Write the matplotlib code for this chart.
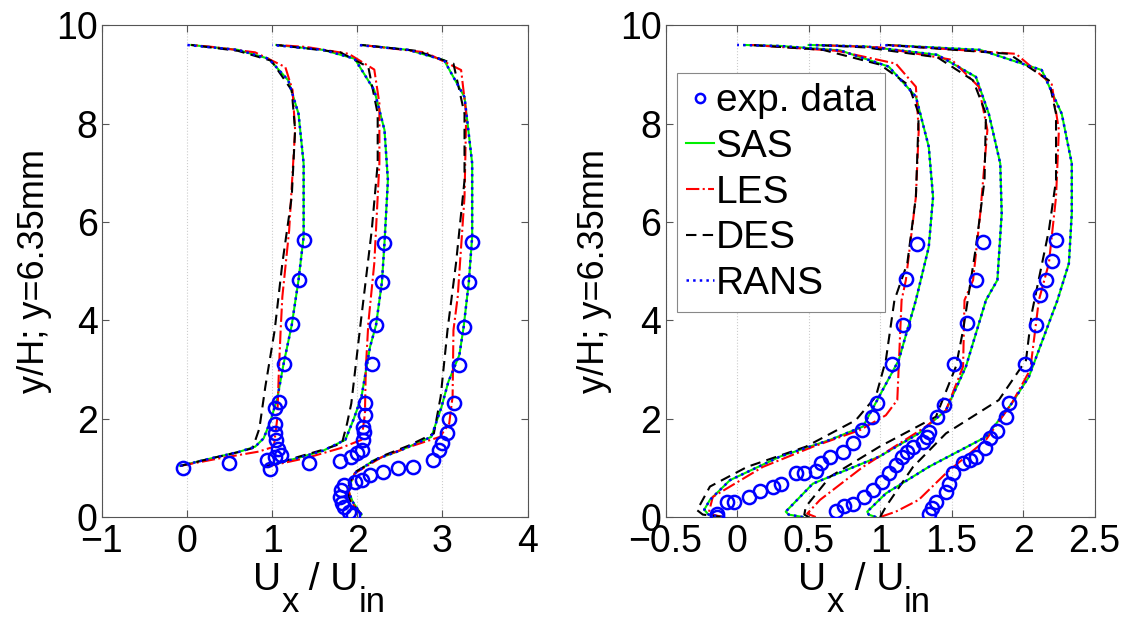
import matplotlib
matplotlib.use('Agg')
import matplotlib.pyplot as plt

plt.rcParams['font.family'] = ['Liberation Sans', 'DejaVu Sans']

# ---- left panel: three stations (x already includes the station offset) ----
L_SAS_X = [[-0.08, 0.3, 0.6, 0.80, 0.9, 0.98, 1.06, 1.135, 1.23, 1.31, 1.37, 1.37, 1.37, 1.31, 1.19, 0.96, 0.6, 0.05],
           [0.9, 1.3, 1.6, 1.86, 1.96, 2.05, 2.15, 2.22, 2.29, 2.32, 2.36, 2.32, 2.2, 1.97, 1.6, 1.05],
           [2.05, 1.95, 1.89, 1.97, 2.2, 2.5, 2.87, 2.99, 3.07, 3.2, 3.25, 3.31, 3.35, 3.35, 3.26, 3.02, 2.6, 2.05]]
L_SAS_Y = [[1.04, 1.2, 1.32, 1.43, 1.6, 1.95, 2.41, 3.12, 3.9, 4.82, 5.7, 6.5, 7.19, 8.2, 8.88, 9.32, 9.5, 9.6],
           [1.02, 1.2, 1.35, 1.57, 2.0, 2.45, 3.46, 3.9, 4.78, 5.58, 6.85, 7.87, 8.68, 9.32, 9.5, 9.6],
           [0.05, 0.3, 0.55, 0.89, 1.16, 1.35, 1.63, 2.24, 2.75, 3.3, 3.87, 4.77, 5.7, 7.19, 8.54, 9.29, 9.5, 9.6]]
L_DES_X = [[-0.08, 0.3, 0.6, 0.77, 0.85, 0.92, 1.03, 1.12, 1.23, 1.27, 1.23, 0.99, 0.6, 0.05],
           [0.9, 1.3, 1.6, 1.82, 1.88, 1.93, 2.03, 2.17, 2.24, 2.24, 2.13, 1.8, 1.05],
           [2.05, 1.92, 1.88, 1.96, 2.28, 2.6, 2.9, 2.98, 3.06, 3.16, 3.26, 3.26, 3.13, 2.7, 2.05]]
L_DES_Y = [[1.04, 1.2, 1.32, 1.4, 1.8, 2.65, 3.8, 5.16, 6.51, 7.87, 8.68, 9.28, 9.48, 9.6],
           [1.02, 1.22, 1.37, 1.5, 1.9, 2.31, 3.8, 5.83, 7.19, 8.2, 9.15, 9.45, 9.6],
           [0.05, 0.3, 0.55, 0.9, 1.23, 1.45, 1.7, 2.45, 3.8, 5.16, 6.85, 8.2, 9.22, 9.48, 9.6]]
L_LES_X = [[-0.08, 0.4, 0.84, 1.02, 1.06, 1.08, 1.1, 1.12, 1.2, 1.27, 1.24, 1.155, 0.8, 0.3, 0.05],
           [0.92, 1.4, 1.8, 2.05, 2.09, 2.1, 2.13, 2.2, 2.26, 2.26, 2.2, 1.9, 1.4, 1.05],
           [2.05, 1.93, 1.9, 1.97, 2.3, 2.6, 2.97, 3.08, 3.12, 3.13, 3.18, 3.26, 3.28, 3.22, 2.8, 2.05]]
L_LES_Y = [[1.04, 1.2, 1.33, 1.43, 2.0, 3.0, 3.8, 4.48, 5.83, 7.87, 8.68, 9.15, 9.45, 9.56, 9.6],
           [1.02, 1.2, 1.4, 1.57, 2.1, 3.0, 3.94, 5.16, 7.19, 8.41, 9.1, 9.42, 9.56, 9.6],
           [0.05, 0.3, 0.55, 0.89, 1.23, 1.42, 1.63, 1.9, 2.45, 3.8, 4.48, 6.51, 8.2, 9.09, 9.45, 9.6]]
L_RANS_TOP = [0.0, 1.0, 2.0]
L_EXP_X = [[-0.05, 0.49, 0.98, 0.94, 1.03, 1.10, 1.07, 1.05, 1.03, 1.03, 1.03, 1.085, 1.135, 1.23, 1.31, 1.37],
           [1.43, 1.8, 1.93, 2.0, 2.05, 2.07, 2.08, 2.07, 2.09, 2.09, 2.17, 2.22, 2.29, 2.32],
           [1.95, 1.9, 1.85, 1.82, 1.8, 1.81, 1.84, 1.97, 2.05, 2.15, 2.3, 2.48, 2.65, 2.89, 2.96, 3.0, 3.05,
            3.08, 3.14, 3.2, 3.25, 3.31, 3.35]]
L_EXP_Y = [[0.99, 1.09, 0.97, 1.16, 1.23, 1.26, 1.39, 1.57, 1.70, 1.90, 2.21, 2.34, 3.12, 3.92, 4.82, 5.64],
           [1.09, 1.14, 1.23, 1.3, 1.36, 1.57, 1.73, 1.83, 2.07, 2.32, 3.12, 3.9, 4.78, 5.58],
           [0.04, 0.1, 0.2, 0.28, 0.41, 0.55, 0.65, 0.72, 0.76, 0.85, 0.92, 0.99, 1.02, 1.16, 1.36, 1.5, 1.7,
            1.99, 2.31, 3.09, 3.87, 4.77, 5.6]]

# ---- right panel ----
R_SAS_X = [[-0.1, -0.2, -0.23, -0.19, -0.05, 0.3, 0.65, 0.88, 0.98, 1.13, 1.25, 1.34, 1.37, 1.34, 1.25, 1.06, 0.72, 0.3, 0.05],
           [0.46, 0.36, 0.34, 0.53, 0.995, 1.27, 1.46, 1.6, 1.74, 1.82, 1.85, 1.84, 1.76, 1.67, 1.4, 0.9, 0.5],
           [0.97, 0.92, 0.91, 1.04, 1.34, 1.74, 1.92, 2.04, 2.24, 2.32, 2.34, 2.34, 2.27, 2.13, 1.7, 1.05]]
R_SAS_Y = [[0.0, 0.05, 0.15, 0.35, 0.75, 1.23, 1.57, 1.84, 2.38, 3.19, 4.41, 5.49, 6.51, 7.53, 8.55, 9.16, 9.49, 9.58, 9.6],
           [0.0, 0.05, 0.11, 0.68, 1.23, 1.7, 2.17, 3.06, 4.41, 4.82, 6.17, 7.19, 8.2, 8.95, 9.4, 9.57, 9.6],
           [0.0, 0.05, 0.11, 0.48, 1.02, 1.63, 2.31, 2.85, 4.41, 5.16, 6.17, 7.19, 8.2, 9.09, 9.5, 9.6]]
R_DES_X = [[-0.1, -0.24, -0.28, -0.19, 0.07, 0.48, 0.83, 0.97, 1.04, 1.10, 1.19, 1.25, 1.27, 1.20, 1.0, 0.6, 0.1],
           [0.5, 0.47, 0.48, 0.65, 0.995, 1.39, 1.53, 1.58, 1.67, 1.73, 1.74, 1.65, 1.4, 0.9, 0.55],
           [1.0, 1.04, 1.23, 1.46, 1.83, 2.02, 2.06, 2.18, 2.23, 2.23, 2.18, 1.9, 1.05]]
R_DES_Y = [[0.0, 0.05, 0.14, 0.62, 1.02, 1.43, 1.97, 2.45, 3.19, 4.41, 5.16, 6.51, 8.2, 8.78, 9.2, 9.5, 9.6],
           [0.0, 0.05, 0.21, 0.82, 1.43, 2.04, 3.06, 3.8, 5.49, 6.85, 8.2, 8.88, 9.35, 9.55, 9.6],
           [0.0, 0.21, 1.02, 1.7, 2.38, 3.19, 4.14, 5.83, 6.85, 8.2, 8.88, 9.42, 9.6]]
R_LES_X = [[-0.1, -0.2, -0.17, 0.18, 0.53, 0.86, 1.04, 1.12, 1.13, 1.15, 1.18, 1.25, 1.27, 1.25, 1.11, 0.7, 0.1],
           [0.55, 0.49, 0.58, 0.88, 1.32, 1.46, 1.58, 1.59, 1.65, 1.7, 1.75, 1.69, 1.5, 1.0, 0.55],
           [1.0, 1.11, 1.27, 1.46, 1.74, 1.92, 2.05, 2.11, 2.18, 2.23, 2.25, 2.2, 1.95, 1.05]]
R_LES_Y = [[0.0, 0.07, 0.41, 1.02, 1.43, 1.77, 2.07, 2.38, 3.06, 4.41, 4.82, 6.51, 7.87, 8.75, 9.22, 9.48, 9.6],
           [0.0, 0.07, 0.35, 1.02, 1.84, 2.17, 3.06, 4.41, 4.82, 6.17, 7.87, 8.75, 9.3, 9.55, 9.6],
           [0.0, 0.11, 0.35, 0.89, 1.57, 2.31, 3.0, 4.41, 5.16, 6.51, 7.87, 8.8, 9.42, 9.6]]
R_RANS_TOP = [0.0, 0.5, 1.0]
R_EXP_X = [[-0.14, -0.14, -0.07, -0.02, 0.08, 0.16, 0.25, 0.31, 0.41, 0.47, 0.55, 0.59, 0.65, 0.74, 0.81, 0.87, 0.94,
            0.98, 1.08, 1.16, 1.18, 1.26],
           [0.69, 0.75, 0.81, 0.89, 0.95, 1.01, 1.06, 1.11, 1.15, 1.19, 1.23, 1.30, 1.33, 1.34, 1.40, 1.45, 1.52, 1.61,
            1.67, 1.72],
           [1.34, 1.36, 1.39, 1.46, 1.48, 1.51, 1.58, 1.63, 1.67, 1.73, 1.77, 1.82, 1.88, 1.90, 2.01, 2.09, 2.12, 2.16,
            2.20, 2.23]]
R_EXP_Y = [[0.0, 0.07, 0.31, 0.31, 0.41, 0.53, 0.62, 0.68, 0.89, 0.89, 0.94, 1.09, 1.23, 1.33, 1.5, 1.77, 2.04, 2.32,
            3.12, 3.9, 4.85, 5.56],
           [0.13, 0.22, 0.26, 0.41, 0.55, 0.72, 0.89, 1.06, 1.23, 1.33, 1.43, 1.53, 1.63, 1.73, 2.04, 2.28, 3.12, 3.94,
            4.83, 5.6],
           [0.06, 0.18, 0.31, 0.51, 0.68, 0.89, 1.09, 1.16, 1.23, 1.4, 1.6, 1.75, 2.03, 2.31, 3.12, 3.9, 4.51, 4.83,
            5.21, 5.63]]


def draw_panel(ax, sas_x, sas_y, les_x, les_y, des_x, des_y, rans_top, exp_x, exp_y):
    for i in range(len(sas_x)):
        ax.plot(exp_x[i], exp_y[i], 'o', ms=9.5, mfc='none', mec='#0000ff', mew=1.8,
                label='exp. data' if i == 0 else None, zorder=5)
        ax.plot(sas_x[i], sas_y[i], '-', color='#00ee00', lw=1.5,
                label='SAS' if i == 0 else None)
        ax.plot(les_x[i], les_y[i], '-.', color='#ff0000', lw=1.5,
                label='LES' if i == 0 else None)
        ax.plot(des_x[i], des_y[i], '--', color='black', lw=1.5, dashes=(5, 3),
                label='DES' if i == 0 else None)
        # RANS sits on top of SAS, only reaching the wall at the top
        rx = sas_x[i][:-1] + [rans_top[i]]
        ax.plot(rx, sas_y[i], ':', color='#0000ff', lw=1.8,
                label='RANS' if i == 0 else None)


def xlabel_pieces(fig, x0, y0, ax):
    # U_x / U_in written MATLAB-style: large subscripts, dropped well below
    drop = 15
    t1 = fig.text(x0, y0, 'U', fontsize=28, va='baseline', ha='left')
    t2 = ax.annotate('x', xy=(1, 0), xycoords=t1, xytext=(0, -drop), textcoords='offset points',
                     fontsize=25, va='bottom', ha='left', annotation_clip=False)
    t3 = ax.annotate(' / U', xy=(1, 0), xycoords=t2, xytext=(0, drop), textcoords='offset points',
                     fontsize=28, va='bottom', ha='left', annotation_clip=False)
    ax.annotate('in', xy=(1, 0), xycoords=t3, xytext=(0, -drop), textcoords='offset points',
                fontsize=25, va='bottom', ha='left', annotation_clip=False)


fig = plt.figure(figsize=(11.32, 6.17), dpi=100)
ax1 = fig.add_axes([0.090, 0.162, 0.376, 0.797])
ax2 = fig.add_axes([0.588, 0.162, 0.379, 0.797])

draw_panel(ax1, L_SAS_X, L_SAS_Y, L_LES_X, L_LES_Y, L_DES_X, L_DES_Y, L_RANS_TOP, L_EXP_X, L_EXP_Y)
draw_panel(ax2, R_SAS_X, R_SAS_Y, R_LES_X, R_LES_Y, R_DES_X, R_DES_Y, R_RANS_TOP, R_EXP_X, R_EXP_Y)

ax1.set_xlim(-1, 4)
ax1.set_xticks([-1, 0, 1, 2, 3, 4])
ax2.set_xlim(-0.5, 2.5)
ax2.set_xticks([-0.5, 0, 0.5, 1, 1.5, 2, 2.5])
ax2.set_xticklabels(['\u22120.5', '0', '0.5', '1', '1.5', '2', '2.5'])

for ax in (ax1, ax2):
    ax.set_ylim(0, 10)
    ax.set_yticks([0, 2, 4, 6, 8, 10])
    ax.tick_params(direction='in', top=True, right=True, labelsize=27, length=5,
                   color='#555555')
    ax.tick_params(axis='x', pad=5)
    ax.tick_params(axis='y', pad=3)
    for s in ax.spines.values():
        s.set_color('#555555')
        s.set_linewidth(0.8)
    ax.grid(axis='x', ls=':', color='#cccccc', lw=0.8)
    ax.set_ylabel('y/H; y=6.35mm', fontsize=26)

ax1.yaxis.set_label_coords(-0.118, 0.5)
ax2.yaxis.set_label_coords(-0.125, 0.5)

xlabel_pieces(fig, 253 / 1132, 27 / 617, ax1)
xlabel_pieces(fig, 798 / 1132, 27 / 617, ax2)

leg = ax2.legend(loc='upper left', bbox_to_anchor=(0.026, 0.902), fontsize=28, handlelength=0.7,
                 handletextpad=0.05, borderpad=0.25, labelspacing=0.25, borderaxespad=0.0,
                 fancybox=False, framealpha=1, edgecolor='#888888', markerscale=0.7)
leg.get_frame().set_linewidth(0.8)

fig.savefig('out.png', dpi=100)
